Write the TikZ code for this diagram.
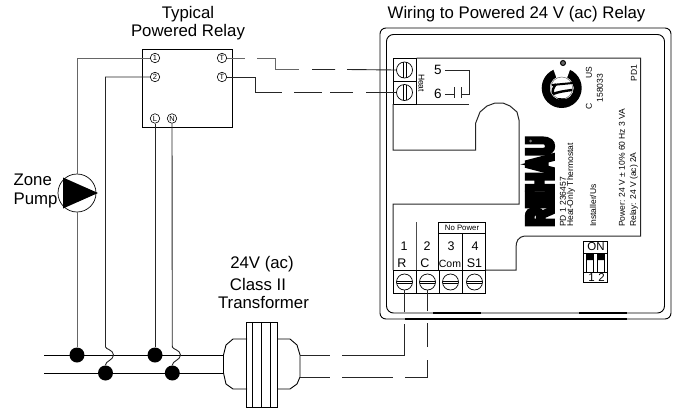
\documentclass[tikz,border=0pt]{standalone}
\usepackage{fontspec}
\setmainfont{Liberation Sans}
\newfontfamily\heavyfont[FakeBold=17]{Liberation Sans Bold}
\usetikzlibrary{calc}
\tikzset{
  x=1pt,y=-1pt,
  wire/.style={line width=0.9pt,black!85},
  graywire/.style={line width=1pt,black!60},
  panel/.style={line width=1pt,black!85},
  term/.style={circle,draw,line width=0.6pt,minimum size=9.5pt,inner sep=0pt,font=\fontsize{7.5}{7.5}\selectfont},
  screwv/.style={circle,draw,line width=0.7pt,minimum size=16pt,inner sep=0pt,
    path picture={\draw[line width=0.6pt] ([xshift=-1.3pt]path picture bounding box.north)--([xshift=-1.3pt]path picture bounding box.south) ([xshift=1.3pt]path picture bounding box.north)--([xshift=1.3pt]path picture bounding box.south);}},
  screwh/.style={circle,draw,line width=0.7pt,minimum size=16pt,inner sep=0pt,
    path picture={\draw[line width=0.6pt] ([yshift=-.8pt]path picture bounding box.west)--([yshift=-.8pt]path picture bounding box.east) ([yshift=.8pt]path picture bounding box.west)--([yshift=.8pt]path picture bounding box.east);}},
  dot/.style={circle,fill=black,minimum size=15pt,inner sep=0pt},
  lab/.style={font=\fontsize{16.8}{17.5}\selectfont,align=center,inner sep=0pt},
  mid/.style={font=\fontsize{12.5}{13}\selectfont,inner sep=0pt},
  tiny/.style={font=\fontsize{8.5}{9}\selectfont,inner sep=0pt,rotate=90},
}
\begin{document}
\begin{tikzpicture}
\useasboundingbox (0,0) rectangle (678,413);
% titles
\node[lab] (t1) at (188,23) {Typical\\Powered Relay};
\node[lab] (t2) at (516.5,14) {Wiring to Powered 24 V (ac) Relay};
\node[lab,align=left] (t3) at (35.5,191) {Zone\\[1.5pt]Pump};
\node[lab] (t4) at (262,264.5) {24V (ac)};
\node[lab] (t5) at (258,284) {Class II};
\node[lab] (t6) at (263.5,302.5) {Transformer};
% relay
\node[draw,line width=0.9pt,minimum width=89.5pt,minimum height=78pt,inner sep=0pt] (relay) at (187.5,88) {};
\node[term] (r1) at (155,58) {1};
\node[term] (r2) at (155,77) {2};
\node[term] (rt1) at (222,58) {T};
\node[term] (rt2) at (222,77) {T};
\node[term] (rl) at (155,118.5) {L};
\node[term] (rn) at (172,118.5) {N};
% pump
\node[circle,draw,line width=0.7pt,minimum size=38pt,inner sep=0pt] (pump) at (77,193) {};
\fill (63,177.5) -- (98,193) -- (63,208.5) -- cycle;
% dots
\node[dot] (d1) at (77,355) {};
\node[dot] (d2) at (105.5,373) {};
\node[dot] (d3) at (155,355) {};
\node[dot] (d4) at (172.3,373) {};
% transformer
\coordinate (bl1) at (44,355);
\coordinate (bl2) at (44,373);
\draw[line width=0.9pt] (bl1) -- (224,355);
\draw[line width=0.9pt] (bl2) -- (224,373);
\draw[line width=0.9pt,fill=white] (247,339) -- (233,339) -- (226,345) -- (223.5,355) -- (223.5,373) -- (226,384) -- (233,389) -- (247,389);
\draw[line width=0.9pt,fill=white] (277,339) -- (290,339) -- (297,345) -- (300,355) -- (300,377) -- (297,384) -- (290,389) -- (277,389);
\node[draw,line width=0.9pt,minimum width=30.5pt,minimum height=85pt,inner sep=0pt] (xfmr) at (262,364.5) {};
\draw[line width=0.7pt] (252.5,322) -- (252.5,407) (261.5,322) -- (261.5,407) (270.5,322) -- (270.5,407);
% wires relay
\draw[graywire] (r1) -| (pump.north);
\draw[graywire] (pump.south) -- (d1);
\draw[wire] (r2) -- (105.5,77) -- (105.5,347) .. controls (105.5,349) and (113.5,350) .. (113.5,355) .. controls (113.5,360) and (105.5,361) .. (105.5,365) -- (d2);
\draw[wire] (rl) -- (d3);
\draw[wire] (rn) -- (172.3,347) .. controls (172.3,349) and (180.5,350) .. (180.5,355) .. controls (180.5,360) and (172.3,361) .. (172.3,365) -- (d4);
% dashed T wires
\coordinate (a1) at (245,58);\coordinate (a2) at (257,58);\coordinate (a3) at (275,69.5);
\coordinate (a4) at (299,69.5);\coordinate (a5) at (312,69.5);\coordinate (a6) at (335,69.5);\coordinate (a7) at (347,69.5);
\coordinate (b1) at (282,92.5);\coordinate (b2) at (294,92.5);\coordinate (b3) at (322,92.5);\coordinate (b4) at (330,92.5);\coordinate (b5) at (353,92.5);\coordinate (b6) at (366,92.5);
% thermostat case
\draw[line width=0.9pt,rounded corners=6pt] (380,28) rectangle (671,319);
\draw[line width=0.9pt,rounded corners=7pt] (386.5,34.5) rectangle (664.5,313);
\draw[line width=1.3pt] (433,313) -- (481,313) (579,313) -- (627,313) (405,319) -- (627,319);
% top terminal
\node[draw,line width=0.9pt,minimum width=23.5pt,minimum height=23pt,inner sep=0pt] (tb5) at (404.7,69.5) {};
\node[draw,line width=0.9pt,minimum width=23.5pt,minimum height=23pt,inner sep=0pt] (tb6) at (404.7,92.5) {};
\node[screwv] (s5) at (404.5,70) {};
\node[screwv] (s6) at (404.5,92.5) {};
\draw[graywire] (rt1) -- (a1) (a2) -- (275,58) -- (a3) -- (a4);
\draw[wire] (a5) -- (a6) (a7) -- (s5.west);
\draw[wire] (rt2) -- (255,77) -- (255,92.5) -- (b1) (b2) -- (b3) (b4) -- (b5) (b6) -- (s6.west);
\node[font=\fontsize{8.5}{9}\selectfont,inner sep=0pt,rotate=-90] (heat) at (421.5,83) {Heat};
\node[mid,font=\fontsize{13.5}{14}\selectfont] (n5) at (438,70) {5};
\node[mid,font=\fontsize{13.5}{14}\selectfont] (n6) at (438,94) {6};
\coordinate (c1) at (469,70);\coordinate (c2) at (469,94);
\draw[wire] (n5.east) ++(3,0) -- (c1) -- (c2) -- (461,94);
\draw[wire] (n6.east) ++(3,0) -- (454,94);
\draw[wire] (454,87) -- (454,98) (461,87) -- (461,98);
% panel outline
\draw[panel] (416.5,58) -- (640.5,58) -- (640.5,236) -- (525,236) .. controls (518,237) and (516,241) .. (516,248) -- (516,270) -- (485,270);
\draw[panel] (416.5,104) -- (469,104);
\draw[panel] (393,104) -- (393,150) -- (475.7,150) -- (475.7,123) -- (480,112) -- (487,106) -- (495,103) -- (503,103) -- (510,106) -- (517,112) -- (519,120) -- (519,204) -- (393,204) -- (393,270);
\draw[line width=0.8pt,black!70] (416.5,222) -- (416.5,270);
% bottom terminals
\node[draw,line width=0.9pt,minimum width=46.5pt,minimum height=11.5pt,inner sep=0pt,font=\fontsize{7.8}{8}\selectfont] (np) at (462,227.8) {No Power};
\draw[line width=.9pt] (438.7,233.5) -- (438.7,270) (462.5,233.5) -- (462.5,270) (485.2,233.5) -- (485.2,270);
\node[draw,line width=0.9pt,minimum width=23.5pt,minimum height=23pt,inner sep=0pt] (c1b) at (404.7,281.5) {};
\node[draw,line width=0.9pt,minimum width=22.5pt,minimum height=23pt,inner sep=0pt] (c2b) at (427.7,281.5) {};
\node[draw,line width=0.9pt,minimum width=23.5pt,minimum height=23pt,inner sep=0pt] (c3b) at (450.7,281.5) {};
\node[draw,line width=0.9pt,minimum width=22.5pt,minimum height=23pt,inner sep=0pt] (c4b) at (474,281.5) {};
\node[screwh] (sr) at (404.5,282) {};
\node[screwh] (sc) at (427.5,282) {};
\node[screwh] (sm) at (450.5,282) {};
\node[screwh] (ss) at (474.5,282) {};
\node[mid] (l1) at (404,246) {1};
\node[mid] (l2) at (427,246) {2};
\node[mid] (l3) at (451,246) {3};
\node[mid] (l4) at (475,246) {4};
\node[mid] (lr) at (402,263) {R};
\node[mid] (lc) at (425,263) {C};
\node[mid,font=\fontsize{10.5}{11}\selectfont] (lm) at (450,264) {Com};
\node[mid] (ls) at (474.5,263.5) {S1};
% wires to transformer
\coordinate (e1) at (404.5,312);\coordinate (e2) at (404.5,324);\coordinate (e3) at (404.5,355);
\coordinate (f1) at (427.5,311);\coordinate (f2) at (427.5,323);\coordinate (f3) at (427.5,347);\coordinate (f4) at (427.5,360);\coordinate (f5) at (427.5,377);
\coordinate (g1) at (330,355);\coordinate (g2) at (342,355);
\coordinate (h1) at (330,377);\coordinate (h2) at (342,377);\coordinate (h3) at (393,377);\coordinate (h4) at (405,377);
\draw[wire] (300,355) -- (g1) (g2) -- (e3) -- (e2) (e1) -- (sr.south);
\draw[wire] (300,377) -- (h1) (h2) -- (h3) (h4) -- (f5) -- (f4) (f3) -- (f2) (f1) -- (sc.south);
% logo
\node[inner sep=0pt,rotate=90] (rehau) at (540,181.5) {\resizebox{89pt}{24pt}{\heavyfont REHAU}};
\fill[black!55] (530.5,141) circle (1.5);
% certification mark
\fill[even odd rule] (561.7,88) circle (20) (561.7,88) circle (12);
\fill[white] (556.5,78) -- (551.5,64) -- (572,64) -- (567,78) -- cycle;
\draw[line width=0.5pt,black!60] (561.7,88) circle (11);
\draw[line width=2pt] (552,85) -- (573,83);
\draw[line width=2.4pt] (553,94) .. controls (558,92) and (564,91) .. (572,90);
\draw[line width=2.4pt] (556,84) .. controls (553,88) and (552,91) .. (553,94);
\fill (557,98) -- (573,99) -- (566,106) -- cycle;
\node[circle,draw,line width=1pt,fill=black!60,minimum size=5pt,inner sep=0pt] (reg) at (563,63) {};
\node[tiny] (us) at (589,73) {US};
\node[tiny] (cc) at (589,106) {C};
\node[tiny] (num) at (600,88) {158033};
\node[tiny] (pd1) at (634,73) {PD1};
\node[tiny,anchor=west] (pd) at (563,227) {PD 1 236457};
\node[tiny,anchor=west] (ho) at (571,227) {Heat-Only Thermostat};
\node[tiny,anchor=west] (iu) at (593,227) {Installer/Us};
\node[tiny,anchor=west] (pw) at (622,227) {Power: 24 V ± 10\% 60 Hz 3 VA};
\node[tiny,anchor=west] (ry) at (634,227) {Relay: 24 V (ac) 2A};
% DIP
\node[draw,line width=0.8pt,minimum width=24pt,minimum height=41.5pt,inner sep=0pt] (dip) at (595,261.8) {};
\draw[line width=0.7pt] (583,253) -- (607,253) (583,272) -- (607,272);
\node[font=\fontsize{11.5}{11.5}\selectfont,inner sep=0pt] (on) at (596,247) {ON};
\node[font=\fontsize{11.5}{11.5}\selectfont,inner sep=0pt] (dn1) at (591.5,277.5) {1};
\node[font=\fontsize{11.5}{11.5}\selectfont,inner sep=0pt] (dn2) at (601.5,277.5) {2};
\draw[line width=0.6pt] (586,254) rectangle (593,272) (597,254) rectangle (604,272);
\fill (586,254) rectangle (593,260) (597,254) rectangle (604,260);
\end{tikzpicture}
\end{document}
